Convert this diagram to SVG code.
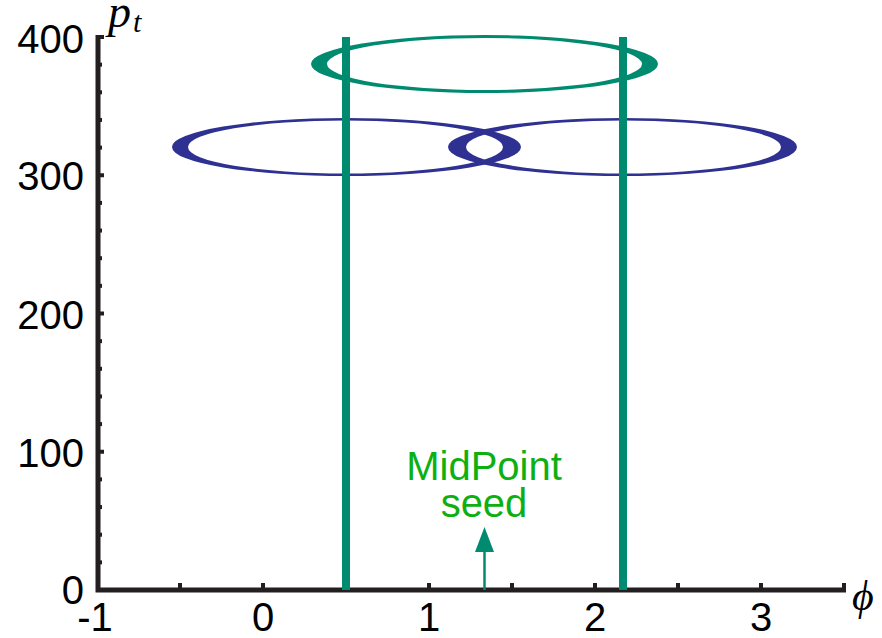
<svg xmlns="http://www.w3.org/2000/svg" width="882" height="638" viewBox="0 0 882 638">
<style>
.ax{stroke:#231F20;stroke-width:5;fill:none}
.tk{stroke:#231F20;stroke-width:4}
.lbl{font-family:"Liberation Sans",Arial,sans-serif;font-size:40px;fill:#000}
.math{font-family:"Liberation Serif","DejaVu Serif",serif;font-style:italic;fill:#000}
.ring{fill-rule:evenodd}
.blue{fill:#2E3192}
.teal{fill:#008B70}
.vline{stroke:#008B70;stroke-width:8}
.seed{font-family:"Liberation Sans",Arial,sans-serif;font-size:40px;fill:#0DB010;text-anchor:middle}
</style>
<rect width="882" height="638" fill="#fff"/>
<g id="axes">
  <path class="ax" d="M98,35 V590 H846"/>
  <g class="tk">
    <line x1="98" y1="37" x2="104" y2="37"/>
    <line x1="98" y1="175.25" x2="104" y2="175.25"/>
    <line x1="98" y1="313.5" x2="104" y2="313.5"/>
    <line x1="98" y1="451.75" x2="104" y2="451.75"/>
    <line x1="98" y1="64.65" x2="102" y2="64.65"/>
    <line x1="98" y1="92.3" x2="102" y2="92.3"/>
    <line x1="98" y1="119.95" x2="102" y2="119.95"/>
    <line x1="98" y1="147.6" x2="102" y2="147.6"/>
    <line x1="98" y1="202.9" x2="102" y2="202.9"/>
    <line x1="98" y1="230.55" x2="102" y2="230.55"/>
    <line x1="98" y1="258.2" x2="102" y2="258.2"/>
    <line x1="98" y1="285.85" x2="102" y2="285.85"/>
    <line x1="98" y1="341.15" x2="102" y2="341.15"/>
    <line x1="98" y1="368.8" x2="102" y2="368.8"/>
    <line x1="98" y1="396.45" x2="102" y2="396.45"/>
    <line x1="98" y1="424.1" x2="102" y2="424.1"/>
    <line x1="98" y1="479.4" x2="102" y2="479.4"/>
    <line x1="98" y1="507.05" x2="102" y2="507.05"/>
    <line x1="98" y1="534.7" x2="102" y2="534.7"/>
    <line x1="98" y1="562.35" x2="102" y2="562.35"/>
    <line x1="180" y1="590" x2="180" y2="583"/>
    <line x1="263" y1="590" x2="263" y2="583"/>
    <line x1="429" y1="590" x2="429" y2="583"/>
    <line x1="512" y1="590" x2="512" y2="583"/>
    <line x1="595" y1="590" x2="595" y2="583"/>
    <line x1="678" y1="590" x2="678" y2="583"/>
    <line x1="761" y1="590" x2="761" y2="583"/>
    <line x1="844" y1="590" x2="844" y2="583"/>
  </g>
  <g class="lbl" text-anchor="end">
    <text x="84" y="53">400</text>
    <text x="84" y="190">300</text>
    <text x="84" y="329">200</text>
    <text x="84" y="467">100</text>
    <text x="84" y="604">0</text>
  </g>
  <g class="lbl" text-anchor="middle">
    <text x="95" y="631">-1</text>
    <text x="263" y="631">0</text>
    <text x="429" y="631">1</text>
    <text x="595" y="631">2</text>
    <text x="761" y="631">3</text>
  </g>
  <text class="math" x="108" y="27" font-size="46">p<tspan font-size="30" dx="2" dy="5">t</tspan></text>
  <text class="math" x="852" y="610" font-size="42">ϕ</text>
</g>
<g id="ellipse-left">
  <path class="ring blue" d="M172,147 a174.5,29 0 1,0 349,0 a174.5,29 0 1,0 -349,0 Z M188,147 a157.5,26.5 0 1,0 315,0 a157.5,26.5 0 1,0 -315,0 Z"/>
</g>
<g id="ellipse-right">
  <path class="ring blue" d="M448,147 a174.5,29 0 1,0 349,0 a174.5,29 0 1,0 -349,0 Z M466,147 a157.5,26.5 0 1,0 315,0 a157.5,26.5 0 1,0 -315,0 Z"/>
</g>
<g id="ellipse-top">
  <path class="ring teal" d="M311,64 a173.5,29 0 1,0 347,0 a173.5,29 0 1,0 -347,0 Z M327,64 a157.5,26 0 1,0 315,0 a157.5,26 0 1,0 -315,0 Z"/>
</g>
<g id="line-left">
  <line class="vline" x1="346" y1="37" x2="346" y2="590"/>
</g>
<g id="line-right">
  <line class="vline" x1="623" y1="37" x2="623" y2="590"/>
</g>
<g id="midpoint-seed">
  <text class="seed" x="484" y="480">MidPoint</text>
  <text class="seed" x="484" y="517">seed</text>
</g>
<g id="connectors">
  <line x1="484.5" y1="590" x2="484.5" y2="550" stroke="#008B70" stroke-width="2.5"/>
  <polygon points="484.5,527 475,552 494,552" fill="#008B70"/>
</g>
</svg>
